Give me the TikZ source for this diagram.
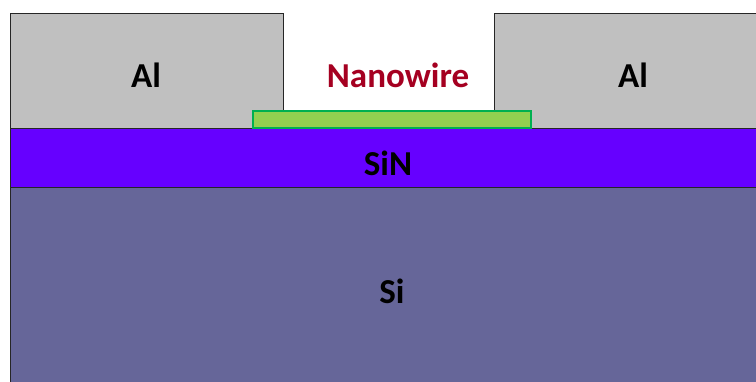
\documentclass[tikz,border=0pt]{standalone}
\usepackage{fontspec}
\setmainfont{Carlito}
\definecolor{alc}{HTML}{C0C0C0}
\definecolor{sinc}{HTML}{6600FF}
\definecolor{sic}{HTML}{666699}
\definecolor{nwfill}{HTML}{92D050}
\definecolor{nwdraw}{HTML}{00B050}
\definecolor{nwtext}{HTML}{A50021}
\begin{document}
\begin{tikzpicture}[x=1pt,y=-1pt,
  layer/.style={draw=black!85,line width=0.9pt},
  lbl/.style={font=\fontsize{35}{38}\selectfont\bfseries,text=black}]
\useasboundingbox (0,0) rectangle (756,382);
\fill[white] (0,0) rectangle (756,382);
\path[layer,fill=sic] (10,187) rectangle (760,386);
\path[layer,fill=sinc] (10,128) rectangle (760,187);
\path[layer,fill=alc] (10,13) rectangle (283,128);
\path[layer,fill=alc] (494,13) rectangle (760,128);
\path[draw=nwdraw,fill=nwfill,line width=1.8pt] (253,111) rectangle (531,128);
\node[lbl] (al1) at (146,75) {Al};
\node[lbl] (al2) at (633,75) {Al};
\node[lbl,text=nwtext] (nw) at (398,75) {Nanowire};
\node[lbl] (sin) at (388,163) {SiN};
\node[lbl] (si) at (392,291) {Si};
\end{tikzpicture}
\end{document}
